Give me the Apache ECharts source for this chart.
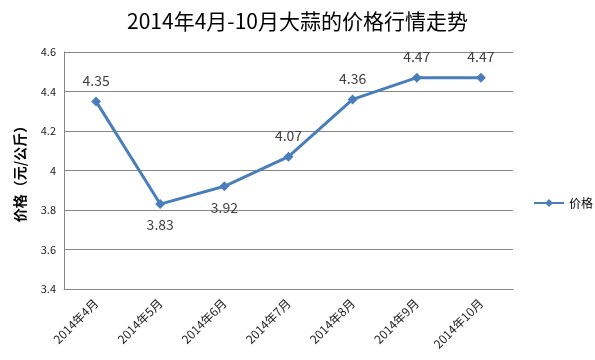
<!DOCTYPE html>
<html><head><meta charset="utf-8">
<script src="https://cdn.jsdelivr.net/npm/echarts@6/dist/echarts.min.js"></script>
<style>html,body{margin:0;padding:0;background:#fff}#c{width:595px;height:360px}</style>
</head><body><div id="c"></div>
<script>
const categories = ['2014年4月','2014年5月','2014年6月','2014年7月','2014年8月','2014年9月','2014年10月'];
const prices = [4.35, 3.83, 3.92, 4.07, 4.36, 4.47, 4.47];
const labelPos = ['top','bottom','bottom','top','top','top','top'];
const yTicks = [3.4, 3.6, 3.8, 4, 4.2, 4.4, 4.6];

const chart = echarts.init(document.getElementById('c'));
const font = "'Noto Sans CJK SC', 'Noto Sans', sans-serif";
chart.setOption({
  animation: false,
  title: {text: '2014年4月-10月大蒜的价格行情走势', left: 'center', top: 6,
    textStyle: {fontFamily: font, fontSize: 21, fontWeight: 'normal', color: '#000'}},
  grid: {left: 64, right: 82, top: 52, bottom: 71},
  legend: {orient: 'vertical', left: 528, top: 192, itemWidth: 30, itemHeight: 10, itemGap: 4,
    textStyle: {fontFamily: font, fontSize: 12, color: '#000'},
    data: ['价格']},
  xAxis: {type: 'category', data: categories, boundaryGap: true,
    axisLine: {lineStyle: {color: '#868686', width: 1}},
    axisTick: {show: false},
    axisLabel: {rotate: 45, fontFamily: font, fontSize: 12, color: '#222', margin: 12, interval: 0}},
  yAxis: {type: 'value', min: 3.4, max: 4.6, interval: 0.2,
    name: '价格（元/公斤）', nameLocation: 'middle', nameGap: 37, nameRotate: 90,
    nameTextStyle: {fontFamily: font, fontSize: 14, fontWeight: 'bold', color: '#000'},
    axisLine: {show: true, lineStyle: {color: '#868686'}},
    axisTick: {show: false},
    splitLine: {lineStyle: {color: '#868686', width: 1}},
    axisLabel: {fontFamily: font, fontSize: 11, color: '#222', margin: 8,
      formatter: v => String(Math.round(v*10)/10)}},
  series: [{
    name: '价格', type: 'line', symbol: 'diamond', symbolSize: 10,
    lineStyle: {color: '#4A7EBB', width: 3},
    itemStyle: {color: '#4A7EBB'},
    data: prices.map((v, i) => ({value: v, label: {position: labelPos[i]}})),
    label: {show: true, distance: 9, fontFamily: font, fontSize: 14, color: '#404040'}
  }]
});
</script></body></html>
